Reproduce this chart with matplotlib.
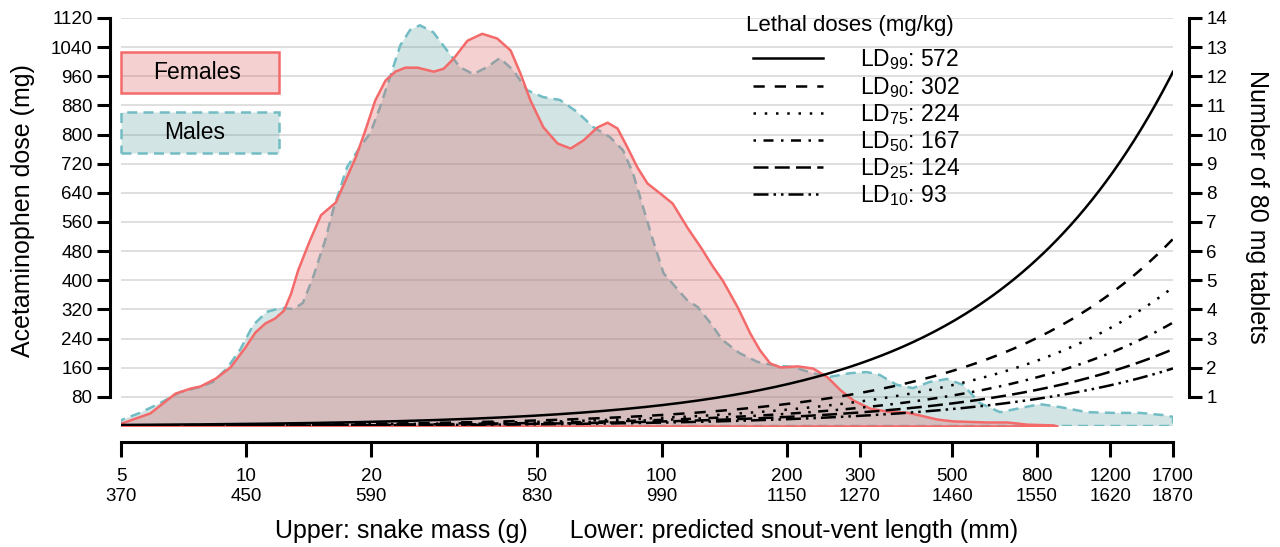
import numpy as np
import matplotlib
matplotlib.use("Agg")
import matplotlib.pyplot as plt
from matplotlib.patches import Rectangle
from matplotlib.lines import Line2D

plt.rcParams['font.family'] = ['Liberation Sans', 'DejaVu Sans']
plt.rcParams['mathtext.fontset'] = 'custom'
plt.rcParams['mathtext.rm'] = 'Liberation Sans'
plt.rcParams['mathtext.it'] = 'Liberation Sans:italic'

# density curves (scaled to the dose axis), mass in g
female_mass = [5.0, 5.87, 6.74, 7.33, 7.75, 8.42, 9.15, 9.94, 10.5, 11.1, 11.7, 12.3, 12.8, 13.3,
               14.2, 15.1, 16.4, 17.3, 18.3, 19.3, 20.4, 21.6, 22.8, 24.1, 25.8, 28.2, 29.8, 31.5,
               34.0, 36.9, 40.1, 43.2, 45.6, 48.2, 51.8, 56.0, 60.2, 64.6, 69.9, 73.9, 78.1, 82.5,
               87.2, 92.2, 99.1, 106, 115, 124, 133, 140, 152, 163, 172, 182, 193, 212, 231, 250,
               269, 289, 317, 348, 389, 418, 460, 502, 606, 678, 757, 874, 894]
female_dose = [8, 36, 90, 104, 110, 131, 162, 217, 258, 283, 296, 318, 365, 428,
               510, 580, 615, 675, 738, 812, 895, 950, 974, 985, 985, 974, 982, 1010,
               1059, 1078, 1065, 1032, 969, 895, 821, 777, 763, 785, 821, 834, 818, 766,
               711, 667, 639, 612, 546, 491, 436, 400, 327, 255, 209, 173, 162, 165, 159, 135,
               99, 71, 49, 41, 38, 30, 19, 14, 11, 11, 5, 3, 0]

male_mass = [5.0, 5.55, 6.21, 6.94, 7.75, 8.33, 9.00, 9.67, 10.4, 11.2, 12.1, 13.0, 13.7, 14.5,
             15.5, 16.2, 17.5, 18.8, 19.9, 21.0, 22.2, 23.5, 24.8, 26.2, 28.2, 30.4, 32.7, 35.2,
             38.0, 40.8, 43.9, 47.4, 51.8, 56.9, 62.6, 68.4, 75.1, 80.7, 85.3, 90.2, 95.3, 101,
             106, 115, 122, 131, 140, 154, 170, 185, 207, 231, 254, 284, 312, 335, 368, 402,
             442, 486, 531, 583, 652, 728, 813, 909, 1055, 1219, 1415, 1608, 1700]
male_dose = [16, 36, 63, 93, 107, 121, 159, 209, 277, 313, 324, 321, 338, 409,
             510, 593, 711, 766, 804, 875, 958, 1045, 1087, 1100, 1081, 1032, 985, 966,
             985, 1010, 977, 922, 903, 895, 862, 821, 793, 757, 694, 601, 510, 420,
             392, 346, 327, 283, 236, 200, 176, 167, 162, 145, 135, 145, 148, 140, 113, 104,
             121, 129, 113, 63, 38, 49, 60, 52, 38, 36, 36, 30, 25]

# lethal doses (mg/kg)
ld_names = ['99', '90', '75', '50', '25', '10']
ld_values = [572, 302, 224, 167, 124, 93]
ld_styles = ['-', (0, (4.5, 4)), (0, (1, 3.5)), (0, (1, 3, 4, 3)), (0, (6, 2.5)), (0, (6, 2, 1, 2, 1, 2))]

mass_ticks = [5, 10, 20, 50, 100, 200, 300, 500, 800, 1200, 1700]
svl_ticks = [370, 450, 590, 830, 990, 1150, 1270, 1460, 1550, 1620, 1870]
dose_ticks = list(range(80, 1121, 80))
tablet_ticks = list(range(1, 15))

fig = plt.figure(figsize=(12.8, 5.47), dpi=100)
ax = fig.add_axes([121 / 1280, 1 - 426 / 547, 1052 / 1280, 408 / 547])

ax.set_xscale('log')
ax.set_xlim(5, 1700)
ax.set_ylim(0, 1120)

female_face = (224 / 255, 102 / 255, 102 / 255, 0.3)
male_face = (95 / 255, 158 / 255, 160 / 255, 0.28)

# distributions
ax.fill_between(male_mass, male_dose, 0, facecolor=male_face,
                edgecolor='#72bcc4', linestyle=(0, (4, 2.5)), linewidth=1.8, zorder=2)
ax.fill_between(female_mass, female_dose, 0, facecolor=female_face,
                edgecolor='#f46a6a', linewidth=1.8, zorder=3)

# lethal dose curves: dose (mg) = LD (mg/kg) * mass (g) / 1000
m = np.geomspace(5, 1700, 300)
handles = []
labels = []
for name, val, ls in zip(ld_names, ld_values, ld_styles):
    ax.plot(m, val * m / 1000, color='black', lw=1.8, linestyle=ls, zorder=4)
    handles.append(Line2D([], [], color='black', lw=1.8, linestyle=ls))
    labels.append(r'LD$_{%s}$: %d' % (name, val))

ax.legend(handles, labels, frameon=False, loc='upper left', bbox_to_anchor=(0.5896, 0.956),
          borderpad=0, fontsize=16.5, handlelength=3.06, handletextpad=1.6, labelspacing=0.1)
fig.text(746 / 1280, 1 - 25 / 547, 'Lethal doses (mg/kg)', fontsize=16, ha='left', va='center')

# sex boxes
ax.add_patch(Rectangle((0, 0.816), 0.150, 0.101, transform=ax.transAxes,
                       facecolor=female_face, edgecolor='#f46a6a',
                       lw=1.8, zorder=5, clip_on=False))
ax.text(0.072, 0.866, 'Females', transform=ax.transAxes, fontsize=16.5, ha='center', va='center', zorder=6)
ax.add_patch(Rectangle((0, 0.669), 0.150, 0.101, transform=ax.transAxes,
                       facecolor=male_face, edgecolor='#72bcc4',
                       lw=1.8, linestyle=(0, (4, 2.5)), zorder=5, clip_on=False))
ax.text(0.070, 0.719, 'Males', transform=ax.transAxes, fontsize=16.5, ha='center', va='center', zorder=6)

# axes styling
ax.set_yticks(dose_ticks)
ax.yaxis.grid(True, color='#d9d9d9', lw=1.2)
ax.set_axisbelow(True)
ax.spines['top'].set_visible(False)
ax.spines['right'].set_visible(False)
ax.spines['left'].set_position(('outward', 8))
ax.spines['left'].set_bounds(80, 1120)
ax.spines['left'].set_linewidth(2.2)
ax.spines['bottom'].set_position(('outward', 11.5))
ax.spines['bottom'].set_bounds(5, 1700)
ax.spines['bottom'].set_linewidth(2.2)
ax.tick_params(axis='y', direction='out', length=9.5, width=2.2, labelsize=13.5, pad=3)
ax.set_xticks(mass_ticks)
ax.set_xticklabels(['%d\n%d' % (a, b) for a, b in zip(mass_ticks, svl_ticks)])
ax.xaxis.set_minor_locator(matplotlib.ticker.NullLocator())
ax.tick_params(axis='x', direction='out', length=11, width=2.2, labelsize=13.5, pad=8)
ax.set_ylabel('Acetaminophen dose (mg)', fontsize=18, labelpad=11)
ax.yaxis.label.set_y(0.529)
ax.set_xlabel('Upper: snake mass (g)      Lower: predicted snout-vent length (mm)', fontsize=18, labelpad=10)

ax2 = ax.twinx()
ax2.set_ylim(0, 14)
ax2.set_yticks(tablet_ticks)
for s in ['top', 'left', 'bottom']:
    ax2.spines[s].set_visible(False)
ax2.spines['right'].set_position(('outward', 11.5))
ax2.spines['right'].set_bounds(1, 14)
ax2.spines['right'].set_linewidth(2.2)
ax2.tick_params(axis='y', direction='out', length=9.5, width=2.2, labelsize=13.5, pad=3)
ax2.set_ylabel('Number of 80 mg tablets', fontsize=18, rotation=270, labelpad=30)
ax2.yaxis.label.set_y(0.537)

fig.savefig('out.png', dpi=100)
